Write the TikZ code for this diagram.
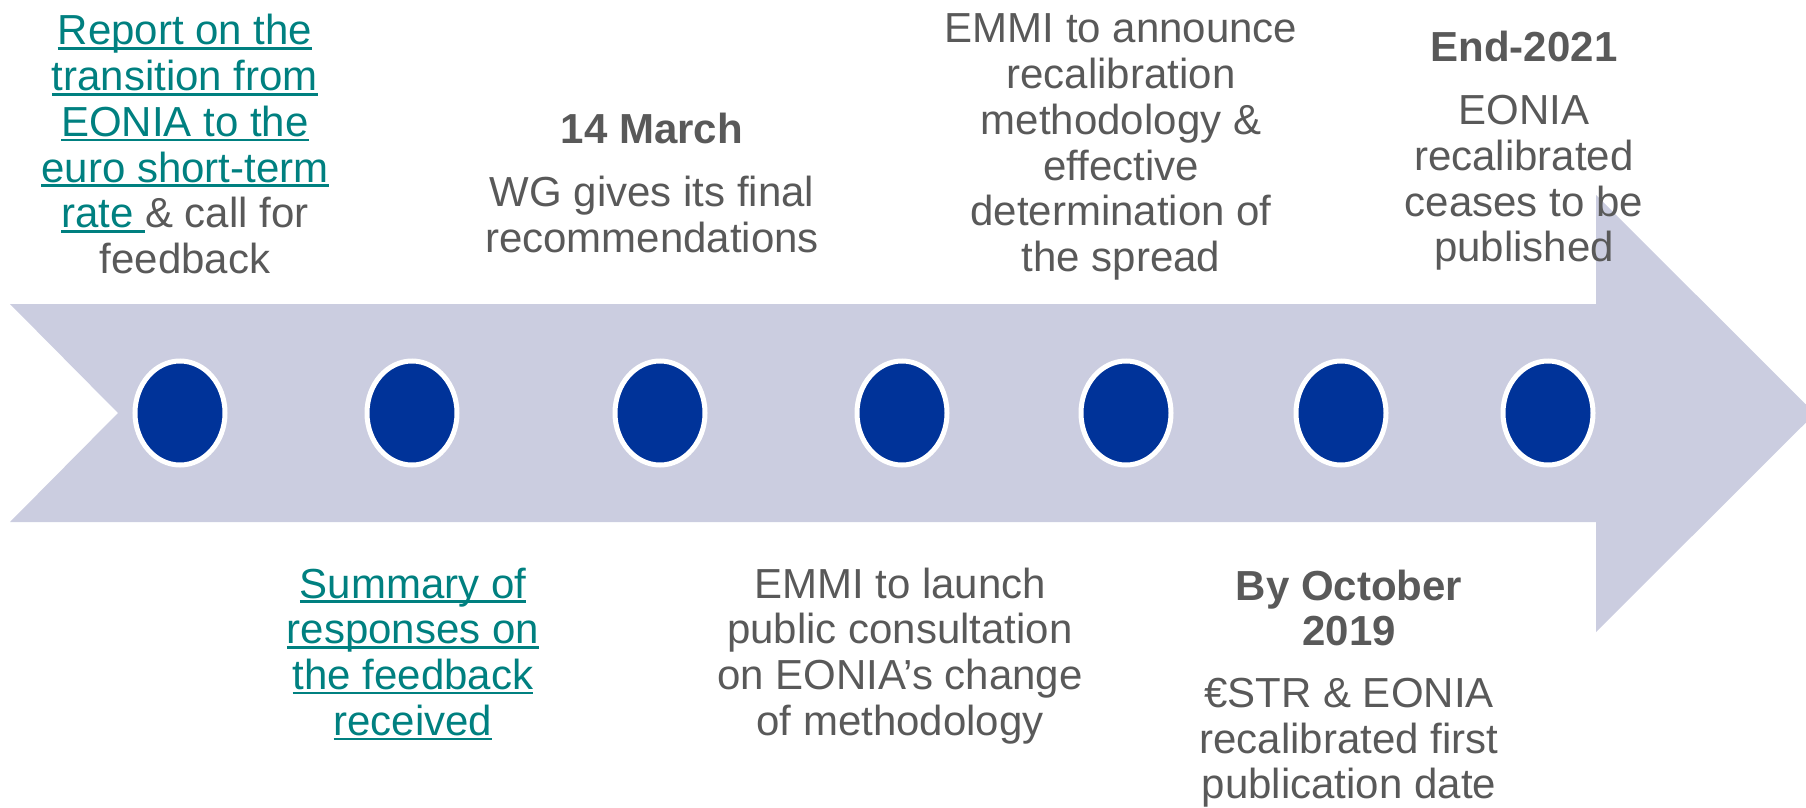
\documentclass[tikz,border=0pt]{standalone}
\usepackage{fontspec}
\setmainfont{Liberation Sans}
\usetikzlibrary{shapes.geometric}
\definecolor{arrowc}{HTML}{CBCDE0}
\definecolor{dotc}{HTML}{003399}
\definecolor{txtc}{HTML}{595959}
\definecolor{linkc}{HTML}{008080}
\newcommand\lnk[1]{\setbox0\hbox{#1}\rlap{\color{linkc}\rule[-5pt]{\wd0}{2.6pt}}{\color{linkc}\box0}}
\begin{document}
\begin{tikzpicture}[x=1pt,y=-1pt,
  dot/.style={ellipse,fill=dotc,draw=white,line width=5pt,minimum width=90pt,minimum height=104pt,inner sep=0pt},
  lbl/.style={anchor=base,inner sep=0pt,text=txtc,font=\fontsize{42}{45.7}\selectfont}]
\useasboundingbox (0,0) rectangle (1806,808);
\begin{scope}
\clip (0,0) rectangle (1806,808);
\fill[arrowc] (10,304) -- (1596,304) -- (1596,195) -- (1815,413.5) -- (1596,632) -- (1596,522) -- (10,522) -- (118,413) -- cycle;
\end{scope}
\node[dot] (d1) at (180,413) {};
\node[dot] (d2) at (412,413) {};
\node[dot] (d3) at (660,413) {};
\node[dot] (d4) at (902,413) {};
\node[dot] (d5) at (1126,413) {};
\node[dot] (d6) at (1341,413) {};
\node[dot] (d7) at (1548,413) {};
\setlength{\tabcolsep}{0pt}
\node[lbl] (t1) at (185,45) {\begin{tabular}[t]{c}\lnk{Report on the}\\ \lnk{transition from}\\ \lnk{EONIA to the}\\ \lnk{euro short-term}\\ \lnk{rate }\& call for\\ feedback\end{tabular}};
\node[lbl] (t2) at (413,598) {\begin{tabular}[t]{c}\lnk{Summary of}\\ \lnk{responses on}\\ \lnk{the feedback}\\ \lnk{received}\end{tabular}};
\node[lbl] (t3) at (652,143) {\begin{tabular}[t]{c}\textbf{14 March}\\[18pt] WG gives its final\\ recommendations\end{tabular}};
\node[lbl] (t4) at (900,598) {\begin{tabular}[t]{c}EMMI to launch\\ public consultation\\ on EONIA’s change\\ of methodology\end{tabular}};
\node[lbl] (t5) at (1121,43) {\begin{tabular}[t]{c}EMMI to announce\\ recalibration\\ methodology \&\\ effective\\ determination of\\ the spread\end{tabular}};
\node[lbl] (t6) at (1349,600) {\begin{tabular}[t]{c}\textbf{By October}\\ \textbf{2019}\\[16pt] €STR \& EONIA\\ recalibrated first\\ publication date\end{tabular}};
\node[lbl] (t7) at (1524,62) {\begin{tabular}[t]{c}\textbf{End-2021}\\[17pt] EONIA\\ recalibrated\\ ceases to be\\ published\end{tabular}};
\end{tikzpicture}
\end{document}
